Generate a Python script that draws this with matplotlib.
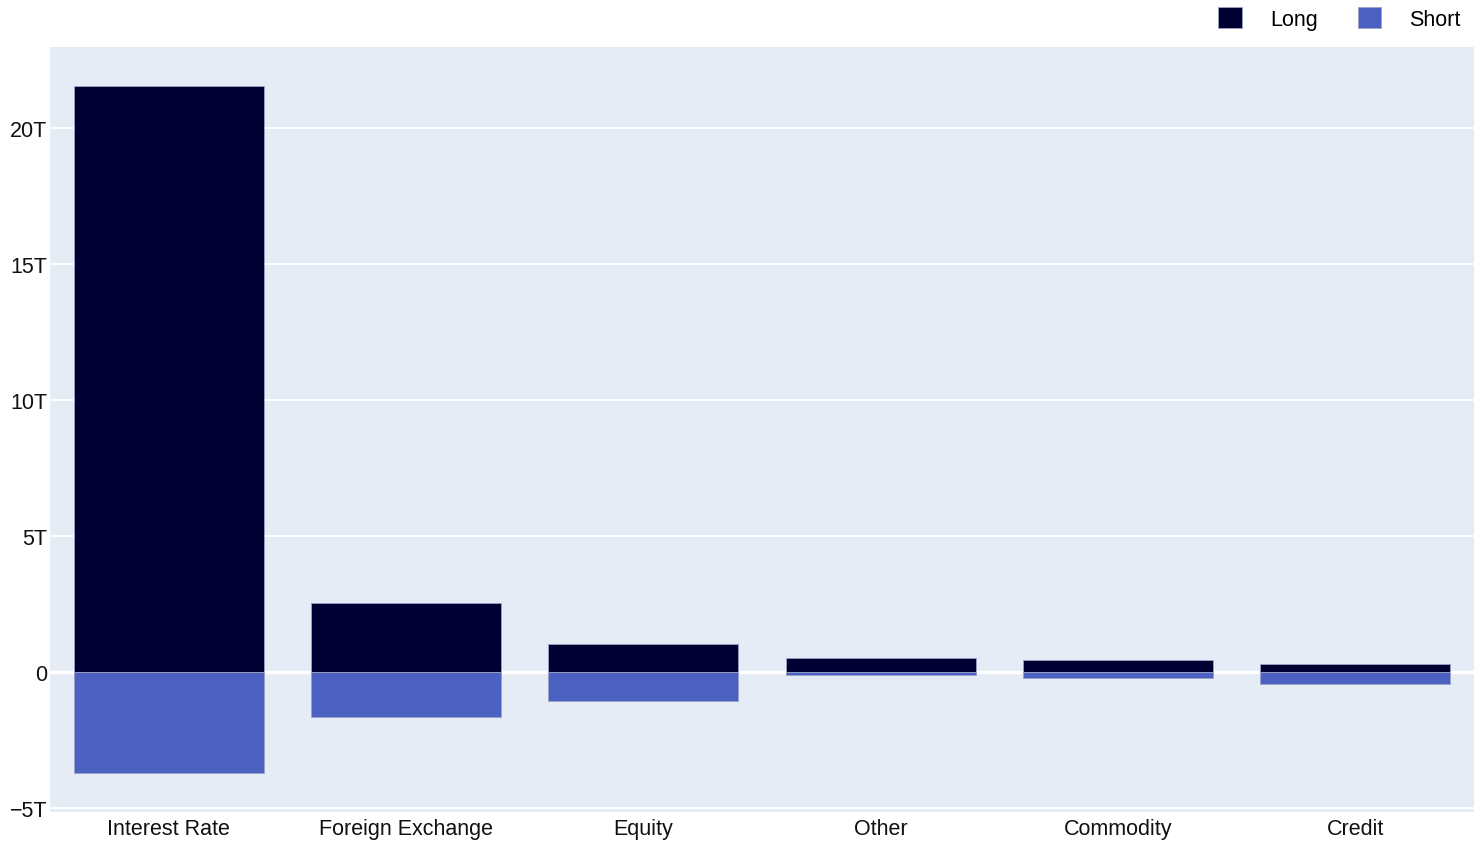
import matplotlib
matplotlib.use("Agg")
import matplotlib.pyplot as plt
from matplotlib.ticker import FuncFormatter
from matplotlib.patches import Patch

categories = ["Interest Rate", "Foreign Exchange", "Equity", "Other", "Commodity", "Credit"]
long_vals = [21.54, 2.54, 1.03, 0.53, 0.43, 0.29]     # trillions
short_vals = [-3.70, -1.66, -1.07, -0.12, -0.24, -0.46]
yticks = [-5, 0, 5, 10, 15, 20]

plt.rcParams['font.family'] = ['Liberation Sans', 'DejaVu Sans']

fig = plt.figure(figsize=(14.84, 8.45), dpi=100)
ax = fig.add_axes([50/1484, 1 - 813/845, 1424/1484, 765/845])
ax.set_facecolor("#E5ECF6")

x = list(range(len(categories)))
ax.bar(x, long_vals, width=0.8, color="#000033", edgecolor="#9aa3c4", linewidth=0.6, zorder=3)
ax.bar(x, short_vals, width=0.8, color="#4C60C2", edgecolor="#9aa3c4", linewidth=0.6, zorder=3)

ax.set_xlim(-0.5, len(categories) - 0.5)
ax.set_ylim(-5.15, 22.98)
ax.set_yticks(yticks)
ax.yaxis.set_major_formatter(FuncFormatter(lambda v, p: "0" if v == 0 else ("\u2212%dT" % abs(v) if v < 0 else "%dT" % v)))
ax.set_xticks(x)
ax.set_xticklabels(categories)
ax.grid(axis="y", color="white", linewidth=1.3, zorder=0)
ax.axhline(0, color="white", linewidth=2.5, zorder=2)
for s in ax.spines.values():
    s.set_visible(False)
ax.tick_params(axis="both", length=0, labelsize=15.5, colors="#111111")
ax.tick_params(axis="y", pad=2)
ax.tick_params(axis="x", pad=4)

handles = [Patch(facecolor="#000033", edgecolor="#9aa3c4", linewidth=0.6, label="Long"),
           Patch(facecolor="#4C60C2", edgecolor="#9aa3c4", linewidth=0.6, label="Short")]
fig.legend(handles=handles, loc="upper right", bbox_to_anchor=(1480/1484, 1.014), ncol=2,
           frameon=False, fontsize=15.5, handlelength=1.1, handleheight=1.15,
           handletextpad=1.3, columnspacing=1.85)

fig.savefig("out.png", dpi=100, facecolor="white")
